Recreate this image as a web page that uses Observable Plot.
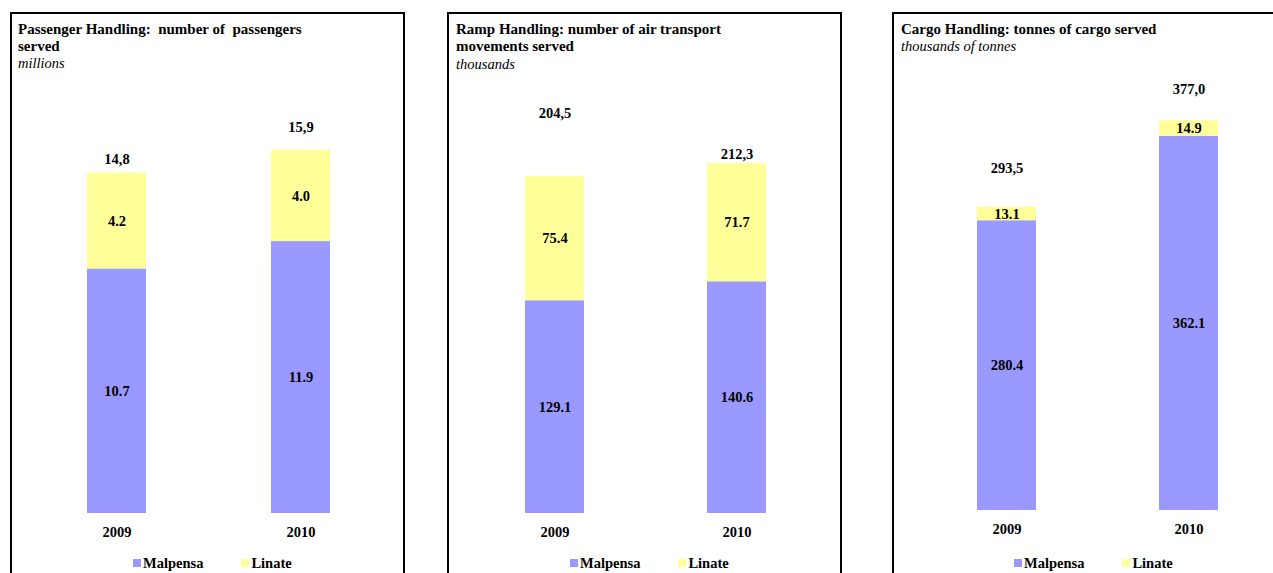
<!DOCTYPE html>
<html>
<head>
<meta charset="utf-8">
<script src="https://cdn.jsdelivr.net/npm/d3@7"></script>
<script src="https://cdn.jsdelivr.net/npm/@observablehq/plot@0.6"></script>
<style>
  html, body { margin: 0; padding: 0; background: #fff; }
  #root { position: relative; width: 1273px; height: 573px; overflow: hidden; font-family: "Liberation Serif", "Times New Roman", serif; color: #000; }
  .box { position: absolute; top: 12px; height: 700px; border: 2px solid #000; box-sizing: border-box; }
  .title { position: absolute; font-weight: bold; font-size: 15px; line-height: 16.5px; white-space: pre; }
  .sub { position: absolute; font-style: italic; font-size: 14.5px; white-space: pre; }
  .legend { position: absolute; font-weight: bold; font-size: 14.5px; display: flex; align-items: center; height: 16px; }
  .sw { width: 8px; height: 8px; display: inline-block; margin-right: 2px; }
  .plot { position: absolute; top: 0; }
</style>
</head>
<body>
<div id="root"></div>
<script>
// ---- data ----
const years = ["2009", "2010"];
const seriesNames = ["Malpensa", "Linate"];

const passengerMalpensa = [10.7, 11.9];
const passengerLinate = [4.2, 4.0];
const passengerTotals = [14.8, 15.9];
const passengerTotalLabelAt = [15.5, 16.9];

const rampMalpensa = [129.1, 140.6];
const rampLinate = [75.4, 71.7];
const rampTotals = [204.5, 212.3];
const rampTotalLabelAt = [242.8, 218.2];

const cargoMalpensa = [280.4, 362.1];
const cargoLinate = [13.1, 14.9];
const cargoTotals = [293.5, 377.0];
const cargoTotalLabelAt = [330.8, 408.0];

const titles = [
  "Passenger Handling:  number of  passengers\nserved",
  "Ramp Handling: number of air transport\nmovements served",
  "Cargo Handling: tonnes of cargo served"
];
const subtitles = ["millions", "thousands", "thousands of tonnes"];

// ---- styling / layout ----
const colors = {Malpensa: "#9999FF", Linate: "#FFFF99"};
const panels = [
  {left: 10, width: 395, boxWidth: 395, bar1: 87, bar2: 271, barW: 59, zeroY: 513, k: 22.85, domMax: 20,
   titleX: 18, titleY: 21, subY: 55, legendX: 133,
   malp: passengerMalpensa, lin: passengerLinate, tot: passengerTotals, totAt: passengerTotalLabelAt},
  {left: 447, width: 394, boxWidth: 395, bar1: 525, bar2: 707, barW: 59, zeroY: 513, k: 1.648, domMax: 280,
   titleX: 456, titleY: 21, subY: 56, legendX: 570,
   malp: rampMalpensa, lin: rampLinate, tot: rampTotals, totAt: rampTotalLabelAt},
  {left: 892, width: 381, boxWidth: 500, bar1: 977, bar2: 1159, barW: 59, zeroY: 510, k: 1.0334, domMax: 450,
   titleX: 901, titleY: 21, subY: 38, legendX: 1014,
   malp: cargoMalpensa, lin: cargoLinate, tot: cargoTotals, totAt: cargoTotalLabelAt}
];

const root = document.getElementById("root");
const fmtIn = d3.format(".1f");
const fmtTot = v => d3.format(".1f")(v).replace(".", ",");

panels.forEach((p, idx) => {
  const step = p.bar2 - p.bar1;
  const pi = 1 - p.barW / step;
  const po = 0.3;
  const r0 = p.bar1 - p.left - po * step;
  const r1 = r0 + step * (2 - pi + 2 * po);

  const malpRows = years.map((y, i) => ({year: y, y1: 0, y2: p.malp[i], v: p.malp[i]}));
  const linRows = years.map((y, i) => ({year: y, y1: p.malp[i], y2: p.malp[i] + p.lin[i], v: p.lin[i]}));
  const totRows = years.map((y, i) => ({year: y, at: p.totAt[i], v: p.tot[i]}));

  const chart = Plot.plot({
    width: p.width,
    height: 573,
    marginTop: 0, marginBottom: 0, marginLeft: 0, marginRight: 0,
    style: {fontFamily: '"Liberation Serif", "Times New Roman", serif', fontSize: "14.5px", fontWeight: "bold", color: "#000", background: "transparent", overflow: "visible"},
    x: {type: "band", domain: years, range: [r0, r1], paddingInner: pi, paddingOuter: po, align: 0.5, label: null},
    y: {domain: [0, p.domMax], range: [p.zeroY, p.zeroY - p.domMax * p.k], axis: null, label: null},
    marks: [
      Plot.barY(malpRows, {x: "year", y1: "y1", y2: "y2", fill: colors.Malpensa}),
      Plot.barY(linRows, {x: "year", y1: "y1", y2: "y2", fill: colors.Linate}),
      Plot.text(malpRows, {x: "year", y: d => (d.y1 + d.y2) / 2, text: d => fmtIn(d.v), fill: "#000"}),
      Plot.text(linRows, {x: "year", y: d => (d.y1 + d.y2) / 2, text: d => fmtIn(d.v), fill: "#000"}),
      Plot.text(totRows, {x: "year", y: "at", text: d => fmtTot(d.v), fill: "#000"}),
      Plot.axisX({tickSize: 0, tickPadding: 13, fill: "#000", anchor: "bottom", y: 0, label: null})
    ]
  });
  chart.classList.add("plot");
  chart.style.left = p.left + "px";
  root.appendChild(chart);

  const box = document.createElement("div");
  box.className = "box";
  box.style.left = p.left + "px";
  box.style.width = p.boxWidth + "px";
  root.appendChild(box);

  const t = document.createElement("div");
  t.className = "title";
  t.style.left = p.titleX + "px";
  t.style.top = p.titleY + "px";
  t.textContent = titles[idx];
  root.appendChild(t);

  const s = document.createElement("div");
  s.className = "sub";
  s.style.left = p.titleX + "px";
  s.style.top = p.subY + "px";
  s.textContent = subtitles[idx];
  root.appendChild(s);

  const lg = document.createElement("div");
  lg.className = "legend";
  lg.style.left = p.legendX + "px";
  lg.style.top = "555px";
  seriesNames.forEach((n, j) => {
    const sw = document.createElement("span");
    sw.className = "sw";
    sw.style.background = colors[n];
    const tx = document.createElement("span");
    tx.textContent = n;
    if (j > 0) sw.style.marginLeft = "38px";
    lg.appendChild(sw);
    lg.appendChild(tx);
  });
  root.appendChild(lg);
});
</script>
</body>
</html>
